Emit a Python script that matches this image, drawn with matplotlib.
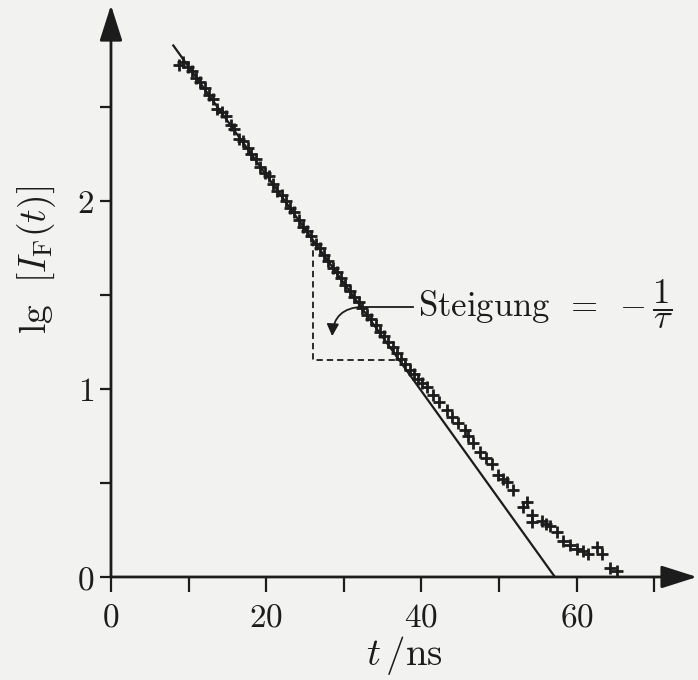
import matplotlib.pyplot as plt

plt.rcParams['mathtext.fontset'] = 'cm'
plt.rcParams['font.family'] = 'serif'
plt.rcParams['font.serif'] = ['DejaVu Serif']

# measured decay, lg of fluorescence intensity vs. time in ns
t_ns = [8.8, 9.3, 9.9, 10.4, 11.0, 11.5, 12.1, 12.6, 13.2, 13.7,
        14.3, 14.8, 15.4, 15.9, 16.5, 17.0, 17.6, 18.1, 18.7, 19.2,
        19.8, 20.3, 20.9, 21.4, 22.0, 22.5, 23.1, 23.6, 24.2, 24.7,
        25.3, 25.8, 26.4, 26.9, 27.5, 28.0, 28.6, 29.1, 29.7, 30.2,
        30.8, 31.3, 31.9, 32.4, 33.0, 33.5, 34.1, 34.6, 35.2, 35.7,
        36.3, 36.8, 37.4, 37.9, 38.5, 39.0, 39.6, 40.1, 40.7, 41.5,
        42.3, 43.3, 44.0, 44.7, 45.6, 46.0, 46.6, 47.6, 48.3, 49.1,
        49.9, 50.5, 51.0, 51.8, 53.1, 53.6, 54.3, 54.3, 55.5, 56.0,
        56.6, 57.5, 58.3, 59.1, 60.0, 60.8, 61.5, 62.6, 63.3, 64.3, 65.2]
lg_I = [2.72, 2.74, 2.71, 2.69, 2.65, 2.63, 2.60, 2.56, 2.54, 2.49,
        2.47, 2.45, 2.40, 2.38, 2.33, 2.32, 2.28, 2.25, 2.22, 2.18,
        2.15, 2.13, 2.09, 2.05, 2.03, 2.00, 1.96, 1.94, 1.90, 1.86,
        1.84, 1.81, 1.77, 1.75, 1.71, 1.68, 1.64, 1.62, 1.59, 1.55,
        1.52, 1.49, 1.46, 1.43, 1.39, 1.37, 1.34, 1.30, 1.28, 1.25,
        1.22, 1.19, 1.16, 1.13, 1.10, 1.08, 1.05, 1.03, 1.01, 0.97,
        0.93, 0.89, 0.85, 0.82, 0.78, 0.75, 0.71, 0.665, 0.63, 0.60,
        0.54, 0.52, 0.505, 0.46, 0.37, 0.40, 0.33, 0.29, 0.30, 0.28,
        0.27, 0.24, 0.19, 0.17, 0.15, 0.14, 0.12, 0.16, 0.12, 0.05, 0.03]

# straight line through the early part of the decay
fit_t = [7.95, 57.2]
fit_lg = [2.83, 0.0]

# slope triangle
tri_t = [26.0, 26.0, 37.1]
tri_lg = [1.79, 1.155, 1.155]

x_ticks = [0, 10, 20, 30, 40, 50, 60, 70]
x_labels = ['$0$', '', '$20$', '', '$40$', '', '$60$', '']
y_ticks = [0, 0.5, 1, 1.5, 2, 2.5]
y_labels = ['$0$', '', '$1$', '', '$2$', '']

ink = '#1c1c1c'
paper = '#f2f2f0'

fig = plt.figure(figsize=(6.98, 6.80), dpi=100, facecolor=paper)
ax = fig.add_axes([0.159, 0.1515, 0.8395, 0.841])
ax.set_facecolor(paper)
ax.set_xlim(0, 75.5)
ax.set_ylim(0, 3.04)

ax.plot(fit_t, fit_lg, color=ink, lw=1.6, solid_capstyle='butt')
ax.plot(t_ns, lg_I, ls='none', marker='+', ms=8, mew=2.0, color=ink)
ax.plot(tri_t, tri_lg, color=ink, lw=1.3, ls=(0, (3.5, 2.2)))

# label with leader line and curved arrow into the triangle
ax.plot([32.3, 38.9], [1.436, 1.436], color=ink, lw=1.3)
ax.annotate('', xy=(28.5, 1.28), xytext=(32.3, 1.436),
            arrowprops=dict(arrowstyle='-|>', color=ink, lw=1.3,
                            mutation_scale=18,
                            connectionstyle='arc3,rad=0.45',
                            shrinkA=0, shrinkB=0))
ax.text(39.5, 1.45, r'$\mathrm{Steigung}\ \,=\ -\dfrac{1}{\tau}$',
        fontsize=25, color=ink, va='center', ha='left')

# axes drawn as arrows
for s in ax.spines.values():
    s.set_visible(False)
ax.annotate('', xy=(1.0, 0), xytext=(0, 0), xycoords='axes fraction',
            arrowprops=dict(arrowstyle='-|>,head_length=1.1,head_width=0.35',
                            color=ink, lw=2.0, mutation_scale=20,
                            shrinkA=0, shrinkB=0))
ax.annotate('', xy=(0, 1.0), xytext=(0, 0), xycoords='axes fraction',
            arrowprops=dict(arrowstyle='-|>,head_length=1.1,head_width=0.35',
                            color=ink, lw=2.0, mutation_scale=20,
                            shrinkA=0, shrinkB=0))

ax.set_xticks(x_ticks)
ax.set_xticklabels(x_labels, fontsize=24, color=ink)
ax.set_yticks(y_ticks)
ax.set_yticklabels(y_labels, fontsize=24, color=ink)
ax.tick_params(axis='x', direction='out', length=11, width=1.6, color=ink, pad=7)
ax.tick_params(axis='y', direction='out', length=8, width=1.6, color=ink, pad=4)

ax.set_xlabel(r'$t\,/\mathrm{ns}$', fontsize=28, color=ink, labelpad=0)
ax.set_ylabel(r'$\mathrm{lg}\ \ [I_{\mathrm{F}}(t)]$', fontsize=27, color=ink)
ax.yaxis.set_label_coords(-0.09, 0.555)

fig.savefig('out.png', dpi=100, facecolor=paper)
